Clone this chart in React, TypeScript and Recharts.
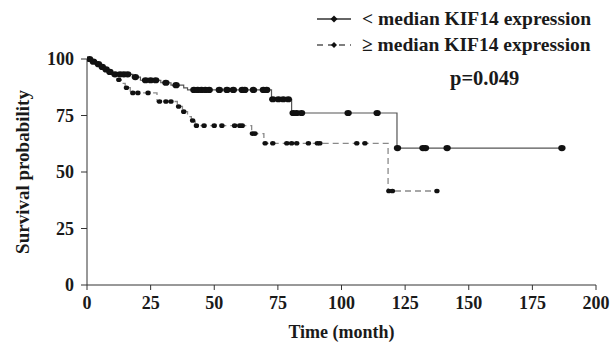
import React from 'react';
import { ComposedChart, Line, XAxis, YAxis, Label } from 'recharts';

// < median group (solid): time in months, survival %, censored flag
const lowTime = [0, 1, 2, 2.5, 4, 4.5, 5.5, 6, 7, 7.5, 8.5, 9, 10, 11, 13, 14.5, 16, 18, 19, 21, 23, 25, 27, 29, 31, 33, 35, 38, 39.5, 42, 43.5, 45, 46.5, 48, 52, 55, 57.5, 61, 62, 65.4, 69.3, 70.6, 72.5, 73, 75.2, 77.1, 79.1, 80.4, 81, 82.4, 84.3, 102.6, 114, 121.8, 122, 132, 133, 141.5, 186.6];
const lowSurv = [100, 100, 98.8, 98.8, 97.7, 97.7, 96.5, 96.5, 95.4, 95.4, 94.3, 94.3, 93.2, 93.2, 93.2, 93.2, 93.2, 92, 92, 90.6, 90.6, 90.6, 90.6, 89.5, 89.5, 88.4, 88.4, 87.2, 86.3, 86.3, 86.3, 86.3, 86.3, 86.3, 86.3, 86.3, 86.3, 86.3, 86.3, 86.3, 86.3, 86.3, 82.2, 82.2, 82.2, 82.2, 82.2, 76.1, 76.1, 76.1, 76.1, 76.1, 76.1, 60.6, 60.6, 60.6, 60.6, 60.6, 60.6];
const lowCens = [0, 1, 0, 1, 0, 1, 0, 1, 0, 1, 0, 1, 0, 1, 1, 1, 1, 0, 1, 0, 1, 1, 1, 0, 1, 0, 1, 0, 0, 1, 1, 1, 1, 1, 1, 1, 1, 1, 1, 1, 1, 1, 0, 1, 1, 1, 1, 0, 1, 1, 1, 1, 1, 0, 1, 1, 1, 1, 1];

// >= median group (dashed)
const highTime = [0, 1, 2, 3, 4, 5.5, 6, 7, 8.5, 9, 10, 12, 12.5, 13.5, 15, 15.5, 17, 18, 20, 24, 27.5, 28.5, 31, 33, 35.5, 36, 37.5, 38, 39.5, 41, 41.5, 42.5, 43, 46, 50, 53, 58, 60, 61, 64.7, 65, 66, 69.5, 70, 73, 78.5, 80.4, 82.4, 87, 90.5, 91.5, 106, 109.2, 118.3, 118.6, 120, 137.5];
const highSurv = [100, 100, 98.8, 98.8, 97.7, 96.5, 96.5, 95.4, 94.2, 94.2, 92.5, 90.8, 90.8, 89.2, 87.3, 87.3, 85, 85, 85, 85, 81.2, 81.2, 81.2, 81.2, 79, 79, 76.7, 76.7, 74.5, 72.8, 72.8, 70.5, 70.5, 70.5, 70.5, 70.5, 70.5, 70.5, 70.5, 67, 67, 67, 62.7, 62.7, 62.7, 62.7, 62.7, 62.7, 62.7, 62.7, 62.7, 62.7, 62.7, 41.6, 41.6, 41.6, 41.6];
const highCens = [0, 1, 0, 1, 0, 0, 1, 0, 0, 1, 0, 0, 1, 0, 0, 1, 0, 1, 1, 1, 0, 1, 1, 1, 0, 1, 0, 1, 0, 0, 1, 0, 1, 1, 1, 1, 1, 1, 1, 0, 1, 1, 0, 1, 1, 1, 1, 1, 1, 1, 1, 1, 1, 0, 1, 1, 1];

const xTicks = [0, 25, 50, 75, 100, 125, 150, 175, 200];
const yTicks = [0, 25, 50, 75, 100];

const lowData = lowTime.map((t, i) => ({ t, s: lowSurv[i], c: lowCens[i] }));
const highData = highTime.map((t, i) => ({ t, s: highSurv[i], c: highCens[i] }));

const font = '"Liberation Serif", "Times New Roman", serif';
const ink = '#1a1a1a';
const tickStyle = { fontSize: 18, fontWeight: 700, fill: ink, fontFamily: font };

const makeDot = (rx: number, ry: number) => (props: any) => {
  const { cx, cy, payload, index } = props;
  if (!payload || !payload.c || cx == null || cy == null) return <g key={index} />;
  return <ellipse key={index} cx={cx} cy={cy} rx={rx} ry={ry} fill="#111" />;
};

export default function App() {
  return (
    <div style={{ position: 'absolute', left: 0, top: 0, width: 611, height: 344, background: '#fff', fontFamily: font }}>
      <ComposedChart width={611} height={344} margin={{ top: 59, right: 15, bottom: 0, left: 0 }}>
        <XAxis
          dataKey="t"
          type="number"
          domain={[0, 200]}
          ticks={xTicks}
          allowDataOverflow
          height={59}
          stroke="#333"
          tickSize={5}
          tickMargin={6}
          tick={tickStyle}
        >
          <Label value="Time (month)" position="insideBottom" offset={6} style={{ fontSize: 18, fontWeight: 700, fill: ink, fontFamily: font }} />
        </XAxis>
        <YAxis
          dataKey="s"
          type="number"
          domain={[0, 100]}
          ticks={yTicks}
          width={87}
          stroke="#333"
          tickSize={6}
          tickMargin={7}
          tick={tickStyle}
        >
          <Label value="Survival probability" angle={-90} position="center" dx={-21} style={{ fontSize: 19, fontWeight: 700, fill: ink, fontFamily: font, textAnchor: 'middle' }} />
        </YAxis>
        <Line
          data={highData}
          dataKey="s"
          type="stepAfter"
          stroke="#8a8a8a"
          strokeWidth={1.3}
          strokeDasharray="6 4"
          dot={makeDot(2.7, 2.3)}
          activeDot={false}
          isAnimationActive={false}
        />
        <Line
          data={lowData}
          dataKey="s"
          type="stepAfter"
          stroke="#555"
          strokeWidth={1.2}
          dot={makeDot(3.7, 3.1)}
          activeDot={false}
          isAnimationActive={false}
        />
      </ComposedChart>
      <div style={{ position: 'absolute', left: 316, top: 6, fontSize: 19.5, fontWeight: 700, color: ink, lineHeight: '26px' }}>
        <div style={{ display: 'flex', alignItems: 'center' }}>
          <svg width={36} height={10} style={{ marginRight: 10 }}>
            <line x1={1} y1={5} x2={35} y2={5} stroke="#333" strokeWidth={1.3} />
            <path d="M18 1.5 L21.5 5 L18 8.5 L14.5 5 Z" fill="#111" />
          </svg>
          <span>&lt; median KIF14 expression</span>
        </div>
        <div style={{ display: 'flex', alignItems: 'center' }}>
          <svg width={36} height={10} style={{ marginRight: 10 }}>
            <line x1={1} y1={5} x2={35} y2={5} stroke="#555" strokeWidth={1.3} strokeDasharray="6 5" />
            <path d="M18 2 L21 5 L18 8 L15 5 Z" fill="#111" />
          </svg>
          <span>≥ median KIF14 expression</span>
        </div>
      </div>
      <div style={{ position: 'absolute', left: 450, top: 67, fontSize: 20.5, fontWeight: 700, color: ink }}>p=0.049</div>
    </div>
  );
}
